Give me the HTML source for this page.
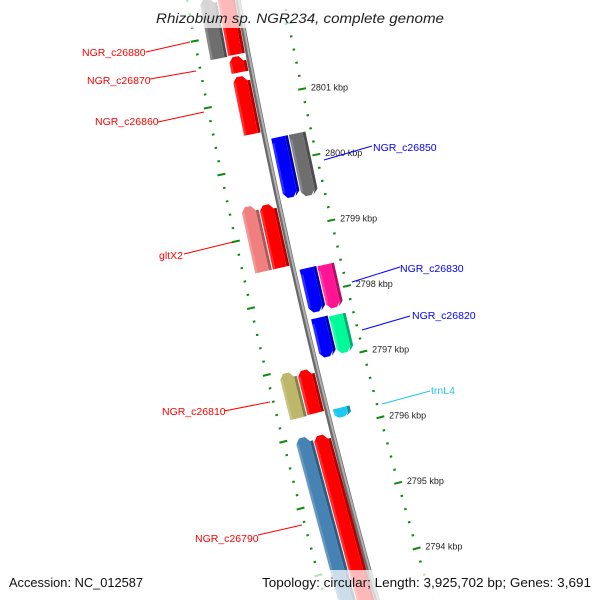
<!DOCTYPE html>
<html><head><meta charset="utf-8"><style>
html,body{margin:0;padding:0;background:#fff;}
svg{display:block;font-family:"Liberation Sans","DejaVu Sans",sans-serif;}
</style></head><body>
<svg id="map" width="600" height="600" viewBox="0 0 600 600" xmlns="http://www.w3.org/2000/svg">
<g id="ticks"></g>
<g id="backbone"></g>
<g id="genes"></g>
<g id="labels"></g>
<rect x="0" y="0" width="600" height="28" fill="#fff" fill-opacity="0.72"/>
<rect x="0" y="570" width="600" height="30" fill="#fff" fill-opacity="0.72"/>
<text x="156" y="23" textLength="288" lengthAdjust="spacingAndGlyphs" font-size="13.5" font-style="italic" fill="#222">Rhizobium sp. NGR234, complete genome</text>
<text x="9" y="587" textLength="134" lengthAdjust="spacingAndGlyphs" font-size="13" fill="#111">Accession: NC_012587</text>
<text x="262" y="587" textLength="329" lengthAdjust="spacingAndGlyphs" font-size="13" fill="#111">Topology: circular; Length: 3,925,702 bp; Genes: 3,691</text>
</svg>
<script>
// ---- data ----
const geneNames   = ["NGR_c26880","NGR_c26890","NGR_c26870","NGR_c26860","NGR_c26850","gene-gray2","gltX2","gene-red3","NGR_c26830","gene-magenta","NGR_c26820","gene-green","NGR_c26810","gene-red4","trnL4","gene-steel","NGR_c26790"];
const geneStartKbp= [2802.58,2802.60,2801.66,2801.36,2800.37,2800.37,2799.46,2799.43,2798.39,2798.38,2797.64,2797.62,2796.96,2796.94,2796.28,2795.99,2795.96];
const geneEndKbp  = [2801.68,2801.69,2801.42,2800.49,2799.46,2799.43,2798.48,2798.48,2797.73,2797.73,2797.05,2797.05,2796.28,2796.29,2796.14,2793.20,2793.20];
const geneStrand  = [1,1,1,1,-1,-1,1,1,-1,-1,-1,-1,1,1,-1,1,1];
const geneLane    = [2,1,1,1,1,2,2,1,1,2,1,2,2,1,1,2,1];
const geneColor   = ["#6e6e6e","#ff0000","#ff0000","#ff0000","#0000ff","#6e6e6e","#f08080","#ff0000","#0000ff","#ff1493","#0000ff","#00fa9a","#bdb76b","#ff0000","#1ec8f0","#4682b4","#ff0000"];
const tickKbp     = [2794,2795,2796,2797,2798,2799,2800,2801];
const tickLabels  = ["2794 kbp","2795 kbp","2796 kbp","2797 kbp","2798 kbp","2799 kbp","2800 kbp","2801 kbp"];

// ---- axis functions ----
const yOfKbp = k => 98 + (2801 - k) * 66.3;
const bx = y => 238 + 0.184*y + 0.00008*y*y;
function pt(y, d){
  const s = 0.184 + 0.00016*y, n = Math.hypot(1,s);
  return [bx(y) + d/n, y - d*s/n];
}
const NS="http://www.w3.org/2000/svg";
function mk(tag, attrs, parent){
  const e=document.createElementNS(NS,tag);
  for(const k in attrs) e.setAttribute(k,attrs[k]);
  parent.appendChild(e); return e;
}
const P = a => a.map(p=>p[0].toFixed(1)+","+p[1].toFixed(1)).join(" ");

// backbone
const bb=document.getElementById('backbone');
let pts=[];for(let y=-10;y<=610;y+=10)pts.push(pt(y,0));
const l1=mk('polyline',{points:P(pts),fill:'none',stroke:'#6a6a6a','stroke-width':5},bb);


let pts2=[];for(let y=-10;y<=610;y+=10)pts2.push(pt(y,0.8));
const l2=mk('polyline',{points:P(pts2),fill:'none',stroke:'#b0b0b0','stroke-width':2},bb);



// ticks
const tg=document.getElementById('ticks');
function tickSeg(yb, d, len){
  const a=pt(yb,d-len/2), b=pt(yb,d+len/2);
  return mk('line',{x1:a[0],y1:a[1],x2:b[0],y2:b[1],stroke:'#118811','stroke-width':2},tg);
}
for(let k=2792; k<=2803.001; k+=0.2){
  const kk=Math.round(k*10)/10, yb=yOfKbp(kk);
  if(yb<-20||yb>620) continue;
  const major=Math.abs(kk-Math.round(kk))<0.01;
  const dR=45+0.012*yb, dL=-50;
  const t1=tickSeg(yb,dR,major?8:2.5);
  
  
  const t2=tickSeg(yb,dL,major?8:2.5);
  
  
}
tickKbp.forEach((k,i)=>{
  const yb=yOfKbp(k), p=pt(yb,45+0.012*yb+8);
  const t=mk('text',{x:p[0]+1,y:p[1]+3,'font-size':9,fill:'#222'},tg);
  t.textContent=tickLabels[i];
  
  
});

// genes
function shade(hex,f){
  const n=parseInt(hex.slice(1),16);
  const r=(n>>16)&255,g=(n>>8)&255,b=n&255;
  return `rgb(${Math.round(r*f)},${Math.round(g*f)},${Math.round(b*f)})`;
}
const gg=document.getElementById('genes');
geneNames.forEach((name,i)=>{
  let y1=yOfKbp(geneStartKbp[i]), y2=yOfKbp(geneEndKbp[i]);
  const side = geneStrand[i]>0 ? -1 : 1;
  const inner = geneLane[i]===1 ? 6 : 24;
  let d1 = side*inner, d2 = side*(inner+14);
  const a=Math.min(d1,d2), b=Math.max(d1,d2);
  const top=Math.min(y1,y2), bot=Math.max(y1,y2);
  const ah=Math.min(5,(bot-top)*0.35), dm=(a+b)/2;
  const g=mk('g',{},gg);
  
  
  let face, sideF;
  if(geneStrand[i]>0){
    face=[pt(top+ah,a),pt(top,a+4),pt(top,b-4),pt(top+ah,b),pt(bot,b),pt(bot,a)];
    sideF=[pt(top+ah,b),pt(top+ah,b+3),pt(bot,b+3),pt(bot,b)];
  }else{
    face=[pt(top,a),pt(top,b),pt(bot-ah,b),pt(bot,b-4),pt(bot,a+4),pt(bot-ah,a)];
    sideF=[pt(top,b),pt(top,b+3),pt(bot-ah,b+3),pt(bot,b-2),pt(bot-ah,b)];
  }
  mk('polygon',{points:P(sideF),fill:shade(geneColor[i],0.7)},g);
  mk('polygon',{points:P(face),fill:geneColor[i]},g);
  const hl=[pt(top+ah,a),pt(top+ah,a+2.5),pt(bot-(geneStrand[i]<0?ah:0),a+2.5),pt(bot-(geneStrand[i]<0?ah:0),a)];
  mk('polygon',{points:P(hl),fill:'#fff','fill-opacity':0.18},g);
});

// labels
const labelText=["NGR_c26880","NGR_c26870","NGR_c26860","gltX2","NGR_c26810","NGR_c26790","NGR_c26850","NGR_c26830","NGR_c26820","trnL4"];
const labelColor=["#ff0000","#ff0000","#ff0000","#ff0000","#ff0000","#ff0000","#0000ff","#0000ff","#0000ff","#1ec8f0"];
const labelAnchor=[[82,56],[87,84],[95,125],[159,259],[162,415],[195,542],[373,151],[400,272],[412,319],[431,394]];
const labelLine=[[146,52,190,42],[150,79,196,71],[158,122,204,112],[184,254,233,242],[224,411,270,402],[258,535,302,525],[324,160,372,146],[352,282,400,267],[362,330,410,316],[382,404,430,391]];
const lg=document.getElementById('labels');
labelText.forEach((t,i)=>{
  const L=labelLine[i];
  const ln=mk('line',{x1:L[0],y1:L[1],x2:L[2],y2:L[3],stroke:labelColor[i],'stroke-width':1},lg);
  
  
  const tx=mk('text',{x:labelAnchor[i][0],y:labelAnchor[i][1],'font-size':10.5,fill:labelColor[i]},lg);
  tx.textContent=t;
  
  
});
</script>
</body></html>
